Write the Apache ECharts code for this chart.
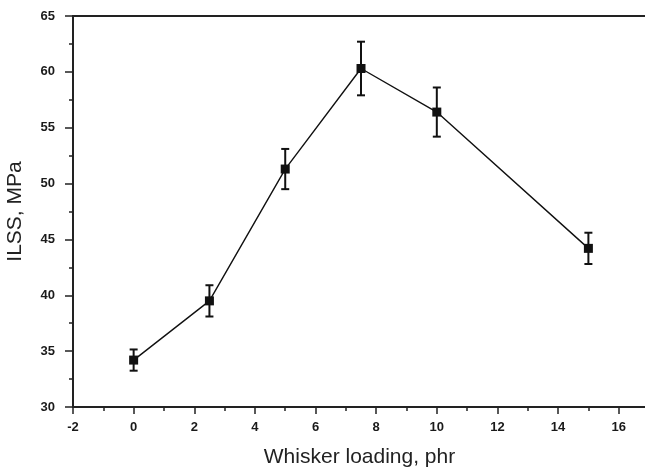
<!DOCTYPE html>
<html>
<head>
<meta charset="utf-8">
<script src="https://cdn.jsdelivr.net/npm/echarts@6/dist/echarts.min.js"></script>
<style>html,body{margin:0;padding:0;background:#fff;}#c{width:645px;height:468px;}</style>
</head>
<body>
<div id="c"></div>
<script>
const loading = [0, 2.5, 5, 7.5, 10, 15];
const ilss = [34.2, 39.5, 51.3, 60.3, 56.4, 44.2];
const ilssErr = [0.95, 1.4, 1.8, 2.4, 2.2, 1.4];
const xTitle = 'Whisker loading, phr';
const yTitle = 'ILSS, MPa';

const lineData = loading.map((x, i) => [x, ilss[i]]);
const errData = loading.map((x, i) => [x, ilss[i] - ilssErr[i], ilss[i] + ilssErr[i]]);

const chart = echarts.init(document.getElementById('c'), null, {renderer: 'canvas'});
const axisLabelStyle = {color: '#1a1a1a', fontFamily: 'Liberation Sans', fontSize: 13, fontWeight: 'bold'};
chart.setOption({
  animation: false,
  backgroundColor: '#fff',
  grid: {left: 73, top: 16, right: -1, bottom: 61, containLabel: false, outerBoundsMode: 'none'},
  xAxis: [{
    type: 'value', min: -2, max: 16.9, interval: 2,
    axisLine: {show: true, onZero: false, lineStyle: {color: '#222', width: 2}},
    axisTick: {show: true, inside: false, length: 7, lineStyle: {color: '#222', width: 1.5}},
    minorTick: {show: true, splitNumber: 2, length: 4, lineStyle: {color: '#222', width: 1.5}},
    splitLine: {show: false},
    axisLabel: Object.assign({margin: 14, showMaxLabel: false}, axisLabelStyle),
    name: xTitle, nameLocation: 'middle', nameGap: 40,
    nameTextStyle: {color: '#222', fontFamily: 'Liberation Sans', fontSize: 21}
  }, {
    type: 'value', position: 'top', min: -2, max: 16.9,
    axisLine: {show: true, onZero: false, lineStyle: {color: '#222', width: 2}},
    axisTick: {show: false}, axisLabel: {show: false}, splitLine: {show: false}
  }],
  yAxis: {
    type: 'value', min: 30, max: 65, interval: 5,
    axisLine: {show: true, onZero: false, lineStyle: {color: '#222', width: 2}},
    axisTick: {show: true, inside: false, length: 8, lineStyle: {color: '#222', width: 1.5}},
    minorTick: {show: true, splitNumber: 2, length: 4, lineStyle: {color: '#222', width: 1.5}},
    splitLine: {show: false},
    axisLabel: Object.assign({margin: 18}, axisLabelStyle),
    name: yTitle, nameLocation: 'middle', nameGap: 47,
    nameTextStyle: {color: '#222', fontFamily: 'Liberation Sans', fontSize: 21}
  },
  series: [{
    type: 'line', data: lineData,
    symbol: 'rect', symbolSize: 9,
    lineStyle: {color: '#111', width: 1.4},
    itemStyle: {color: '#111'}
  }, {
    type: 'custom', data: errData,
    renderItem: function (params, api) {
      const x = api.value(0);
      const lo = api.coord([x, api.value(1)]);
      const hi = api.coord([x, api.value(2)]);
      const w = 4;
      const st = {stroke: '#111', lineWidth: 2};
      return {type: 'group', children: [
        {type: 'line', shape: {x1: lo[0], y1: lo[1], x2: hi[0], y2: hi[1]}, style: st},
        {type: 'line', shape: {x1: lo[0] - w, y1: lo[1], x2: lo[0] + w, y2: lo[1]}, style: st},
        {type: 'line', shape: {x1: hi[0] - w, y1: hi[1], x2: hi[0] + w, y2: hi[1]}, style: st}
      ]};
    },
    z: 3
  }]
});
</script>
</body>
</html>
